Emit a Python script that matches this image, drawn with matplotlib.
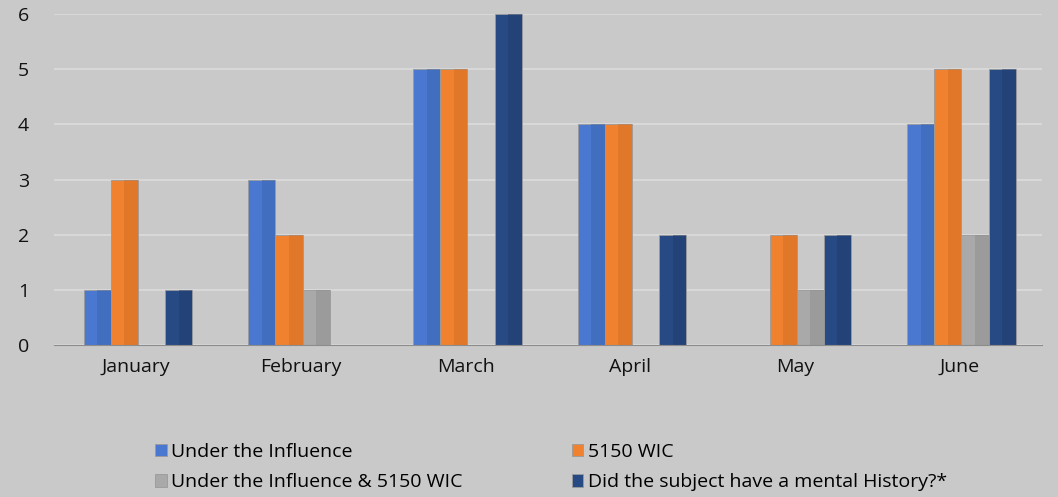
import numpy as np
import matplotlib.pyplot as plt

months = ['January', 'February', 'March', 'April', 'May', 'June']
under_influence = [1, 3, 5, 4, 0, 4]
wic_5150 = [3, 2, 5, 4, 2, 5]
both = [0, 1, 0, 0, 1, 2]
mental_history = [1, 0, 6, 2, 2, 5]

series = [under_influence, wic_5150, both, mental_history]
names = ['Under the Influence', '5150 WIC', 'Under the Influence & 5150 WIC',
         'Did the subject have a mental History?*']
colors = ['#4a78d0', '#f0822f', '#a9a9a9', '#284a84']
shades = ['#3a62ad', '#d06a22', '#8c8c8c', '#1f3a6a']

plt.rcParams['font.family'] = ['Open Sans', 'DejaVu Sans']

fig = plt.figure(figsize=(10.58, 4.97), dpi=100, facecolor='#c9c9c9')
ax = fig.add_axes([0.051, 0.305, 0.934, 0.667])
ax.set_facecolor('#c9c9c9')

x = np.arange(len(months))
w = 0.165
handles = []
for i, vals in enumerate(series):
    pos = x + (i - 1.5) * w + 0.01
    b = ax.bar(pos, vals, width=w, color=colors[i], edgecolor='#9a9a9a',
               linewidth=0.6, zorder=3, label=names[i])
    # darker right half for the bevel look
    ax.bar(pos + w / 4, vals, width=w / 2, color=shades[i], alpha=0.45,
           linewidth=0, zorder=4)
    handles.append(b)

ax.set_xlim(-0.5, 5.5)
ax.set_ylim(0, 6)
ax.set_yticks(range(7))
ax.set_xticks(x)
ax.set_xticklabels(months)
ax.tick_params(length=0, labelsize=14, colors='#111111')
ax.tick_params(axis='y', pad=18)
ax.tick_params(axis='x', pad=9)
ax.grid(axis='y', color='#dcdcdc', linewidth=1.2, zorder=0)
for s in ['top', 'right', 'left']:
    ax.spines[s].set_visible(False)
ax.spines['bottom'].set_color('#8c8c8c')
ax.spines['bottom'].set_zorder(5)

order = [0, 2, 1, 3]
fig.legend([handles[i] for i in order], [names[i] for i in order],
           ncol=2, frameon=False, loc='upper left', bbox_to_anchor=(0.139, 0.124),
           fontsize=14, handlelength=0.6, handleheight=0.6, handletextpad=0.25,
           columnspacing=5.6, labelspacing=0.62, borderaxespad=0)

fig.savefig('out.png', dpi=100, facecolor=fig.get_facecolor())
